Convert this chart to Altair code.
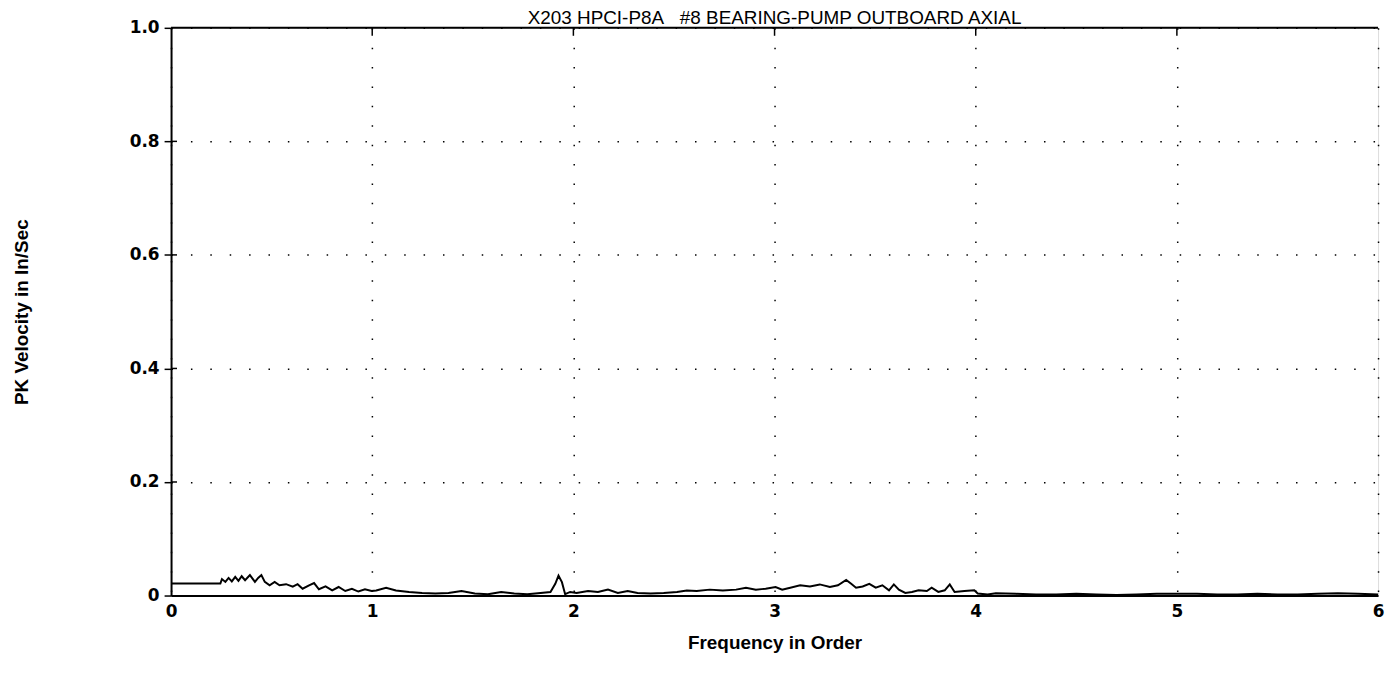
import altair as alt
import pandas as pd

TITLE = "X203 HPCI-P8A\u00a0\u00a0\u00a0#8 BEARING-PUMP OUTBOARD AXIAL"
X_TITLE = "Frequency in Order"
Y_TITLE = "PK Velocity in In/Sec"

x_ticks = [0, 1, 2, 3, 4, 5, 6]
y_ticks = [0, 0.2, 0.4, 0.6, 0.8, 1.0]

freq = [
    0.0, 0.025, 0.245, 0.253, 0.270, 0.286, 0.302, 0.319, 0.335, 0.351, 0.368,
    0.392, 0.417, 0.433, 0.449, 0.466, 0.490, 0.515, 0.539, 0.572, 0.605,
    0.629, 0.654, 0.686, 0.711, 0.735, 0.768, 0.801, 0.833, 0.866, 0.899,
    0.931, 0.964, 0.997,
    1.020, 1.069, 1.118, 1.183, 1.248, 1.314, 1.379, 1.444, 1.510, 1.575,
    1.641, 1.706, 1.771, 1.837, 1.886, 1.910, 1.926, 1.943, 1.959, 1.984,
    2.016,
    2.073, 2.122, 2.172, 2.221, 2.270, 2.319, 2.384, 2.449, 2.515, 2.564,
    2.613, 2.678, 2.743, 2.809, 2.858, 2.907, 2.956, 3.005, 3.038,
    3.078, 3.127, 3.176, 3.225, 3.275, 3.315, 3.356, 3.381, 3.405, 3.438,
    3.471, 3.503, 3.536, 3.569, 3.593, 3.618, 3.650, 3.683, 3.716, 3.757,
    3.781, 3.814, 3.846, 3.871, 3.895, 3.944, 3.993, 4.010, 4.059,
    4.1, 4.2, 4.3, 4.4, 4.5, 4.6, 4.7, 4.8, 4.9, 5.0, 5.1, 5.2, 5.3, 5.4,
    5.5, 5.6, 5.7, 5.8, 5.9, 6.0,
]

velocity = [
    0.021, 0.021, 0.021, 0.029, 0.024, 0.031, 0.025, 0.033, 0.026, 0.034, 0.027,
    0.036, 0.024, 0.031, 0.036, 0.024, 0.018, 0.024, 0.018, 0.020, 0.0155,
    0.020, 0.012, 0.018, 0.022, 0.011, 0.016, 0.009, 0.015, 0.008, 0.012,
    0.007, 0.011, 0.008,
    0.009, 0.0138, 0.009, 0.0063, 0.0046, 0.0035, 0.0046, 0.008, 0.0035, 0.0023,
    0.0063, 0.0035, 0.0023, 0.0046, 0.0063, 0.0207, 0.035, 0.0236, 0.0023, 0.0063,
    0.0046,
    0.008, 0.0063, 0.0104, 0.0046, 0.008, 0.0046, 0.0035, 0.0046, 0.0063, 0.009,
    0.008, 0.0104, 0.009, 0.0104, 0.0138, 0.0104, 0.012, 0.015, 0.0104,
    0.0138, 0.018, 0.016, 0.0196, 0.015, 0.018, 0.0276, 0.0207, 0.0138, 0.016,
    0.0207, 0.0138, 0.018, 0.0092, 0.0196, 0.0104, 0.0046, 0.0063, 0.0092, 0.008,
    0.0138, 0.0063, 0.0092, 0.0196, 0.0063, 0.008, 0.0092, 0.0035, 0.002,
    0.004, 0.003, 0.002, 0.002, 0.003, 0.002, 0.001, 0.002, 0.003, 0.003,
    0.003, 0.002, 0.002, 0.003, 0.002, 0.002, 0.003, 0.004, 0.003, 0.002,
]

df = pd.DataFrame({"freq": freq, "vel": velocity})
top_ticks = pd.DataFrame({"t": x_ticks[1:-1]})
inner_y = pd.DataFrame({"v": y_ticks[1:-1]})
title_df = pd.DataFrame({"label": [TITLE]})

FONT = "Liberation Sans"
NUM_FONT = "DejaVu Sans"
W, H = 1214, 571

xscale = alt.Scale(domain=[0, 6], nice=False, zero=False)
yscale = alt.Scale(domain=[0, 1], nice=False)

line = alt.Chart(df).mark_line(color="black", strokeWidth=2).encode(
    x=alt.X(
        "freq:Q",
        scale=xscale,
        axis=alt.Axis(
            values=x_ticks,
            format="d",
            title=X_TITLE,
            titleFont=FONT,
            titleFontSize=19,
            titleFontWeight="bold",
            titleColor="black",
            titleY=38,
            titleBaseline="top",
            labelFont=NUM_FONT,
            labelFontSize=17,
            labelFontWeight="bold",
            labelColor="black",
            labelPadding=8,
            labelFlush=False,
            labelOverlap=False,
            ticks=False,
            domainColor="black",
            domainWidth=2,
            grid=True,
            gridColor="black",
            gridDash=[1.5, 18],
            gridWidth=1.5,
        ),
    ),
    y=alt.Y(
        "vel:Q",
        scale=yscale,
        axis=alt.Axis(
            values=y_ticks,
            labelExpr="datum.value == 0 ? '0' : format(datum.value, '.1f')",
            title=Y_TITLE,
            titleFont=FONT,
            titleFontSize=19,
            titleFontWeight="bold",
            titleColor="black",
            titleX=-150,
            titleY=H / 2,
            titleAngle=270,
            titleBaseline="middle",
            labelFont=NUM_FONT,
            labelFontSize=17,
            labelFontWeight="bold",
            labelColor="black",
            labelPadding=5,
            labelFlush=False,
            labelOverlap=False,
            tickSize=7,
            tickColor="black",
            tickWidth=1.5,
            domainColor="black",
            domainWidth=2,
            grid=True,
            gridColor="black",
            gridDash=[1.5, 18],
            gridWidth=1.5,
        ),
    ),
)

top_border = alt.Chart(title_df).mark_rule(color="black", strokeWidth=2).encode(
    x=alt.value(0), x2=alt.value(W), y=alt.value(0)
)

top_tick_rules = alt.Chart(top_ticks).mark_rule(color="black", strokeWidth=1.5).encode(
    x=alt.X("t:Q", scale=xscale), y=alt.value(0), y2=alt.value(8)
)

inner_y_ticks = alt.Chart(inner_y).mark_rule(color="black", strokeWidth=1.5).encode(
    y=alt.Y("v:Q", scale=yscale), x=alt.value(0), x2=alt.value(6)
)

title_text = alt.Chart(title_df).mark_text(
    font=FONT, fontSize=19, color="black", align="center", baseline="alphabetic"
).encode(x=alt.value(W / 2), y=alt.value(-4), text="label:N")

chart = alt.layer(line, top_border, top_tick_rules, inner_y_ticks, title_text).properties(
    width=W,
    height=H,
    autosize=alt.AutoSizeParams(type="none"),
    padding={"left": 164, "top": 18, "right": 8, "bottom": 80},
).configure_view(stroke=None).configure(background="white")

chart.save("out.html", embed_options={"renderer": "svg", "actions": False})
